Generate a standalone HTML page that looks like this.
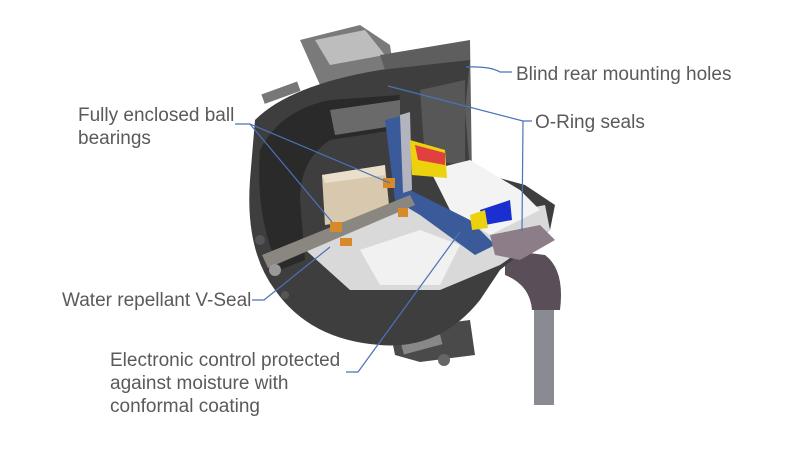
<!DOCTYPE html>
<html><head><meta charset="utf-8"><style>
html,body{margin:0;padding:0;background:#fff;}
svg{display:block}
text{font-family:"Liberation Sans",sans-serif;font-size:19px;fill:#5a5a5a}
</style></head><body>
<svg width="800" height="460" viewBox="0 0 800 460" xmlns="http://www.w3.org/2000/svg">
<rect width="800" height="460" fill="#fff"/>
<!-- cable -->
<rect x="534" y="300" width="20" height="105" fill="#8a8a92"/>
<path d="M505 250 L545 255 Q565 270 560 310 L532 310 Q530 285 505 275 Z" fill="#5a4e58"/>
<!-- bottom mount -->
<path d="M390 330 L470 320 L475 355 L420 362 L395 355 Z" fill="#4a4a4a"/>
<rect x="402" y="340" width="40" height="10" fill="#888" transform="rotate(-15 420 345)"/>
<circle cx="444" cy="360" r="6" fill="#666"/>
<!-- top mount -->
<path d="M300 40 L360 25 L390 45 L395 80 L320 85 Z" fill="#7a7a7a"/>
<path d="M315 40 L365 30 L385 55 L330 65 Z" fill="#bdbdbd"/>
<rect x="262" y="88" width="38" height="10" fill="#777" transform="rotate(-20 280 93)"/>
<!-- rear housing -->
<path d="M380 55 L470 40 L472 180 L420 175 Z" fill="#5e5e5e"/>
<path d="M430 70 L462 65 L462 90 L432 95 Z" fill="#777"/>
<!-- main dark casing -->
<path d="M255 120 Q290 85 380 70 L470 60 L465 110 L470 170 L525 185 L555 205 L550 230 L500 270 L480 300 Q440 350 380 345 Q310 340 275 290 Q245 250 250 180 Z" fill="#3e3e3e"/>
<path d="M260 150 Q280 110 330 100 L400 95 L395 130 L330 140 Q300 160 300 200 L305 260 L280 270 Q255 220 260 150 Z" fill="#2a2a2a"/>
<path d="M420 90 L465 80 L465 165 L425 160 Z" fill="#575757"/>
<path d="M330 110 L400 100 L400 125 L335 135 Z" fill="#6a6a6a"/>
<!-- internal light cut section -->
<path d="M300 245 L400 205 L470 220 L545 205 L550 230 L500 265 L440 290 L350 290 Z" fill="#d9d9d9"/>
<path d="M360 250 L420 230 L460 245 L440 285 L380 285 Z" fill="#f1f1f1"/>
<path d="M430 170 L470 160 L520 190 L540 210 L490 235 L450 210 Z" fill="#f3f3f3"/>
<!-- beige block -->
<path d="M322 175 L385 165 L390 215 L325 225 Z" fill="#d8c9ae"/>
<path d="M322 175 L385 165 L385 175 L325 183 Z" fill="#eadfca"/>
<!-- blue board -->
<path d="M385 120 L405 115 L410 190 L470 220 L495 245 L475 255 L420 215 L395 200 Z" fill="#3a5a9a"/>
<path d="M400 115 L410 112 L412 190 L403 193 Z" fill="#b4b4c0"/>
<!-- yellow/red -->
<path d="M410 140 L445 150 L447 178 L412 175 Z" fill="#ecd20c"/>
<path d="M415 145 L445 153 L445 165 L418 160 Z" fill="#e24040"/>
<path d="M480 210 L510 200 L512 220 L485 225 Z" fill="#1b2fd0"/>
<path d="M470 215 L485 210 L488 228 L472 230 Z" fill="#ecd20c"/>
<!-- shaft/plate -->
<path d="M262 255 L410 195 L415 205 L268 268 Z" fill="#8a8780"/>
<!-- orange bearings -->
<rect x="383" y="178" width="12" height="10" fill="#d68a2a"/>
<rect x="330" y="222" width="12" height="10" fill="#d68a2a"/>
<rect x="340" y="238" width="12" height="8" fill="#d68a2a"/>
<rect x="398" y="208" width="10" height="9" fill="#d68a2a"/>
<!-- connector -->
<path d="M490 235 L540 225 L555 240 L520 260 L495 255 Z" fill="#8c7d88"/>
<!-- small bolts -->
<circle cx="260" cy="240" r="5" fill="#555"/><circle cx="275" cy="270" r="6" fill="#999"/><circle cx="285" cy="295" r="4" fill="#555"/>
<!-- leaders -->
<g stroke="#4b72b8" stroke-width="1.2" fill="none">
<path d="M512 72 L500 72 Q490 66 466 67"/>
<path d="M532 121 L523 121 L388 86"/>
<path d="M523 121 L522 231"/>
<path d="M235 124 L250 124 L332 222"/>
<path d="M250 124 L390 183"/>
<path d="M252 300 L264 300 L330 247"/>
<path d="M346 372 L358 372 L460 232"/>
</g>
<text x="516" y="80">Blind rear mounting holes</text>
<text x="535" y="128">O-Ring seals</text>
<text x="78" y="121">Fully enclosed ball</text>
<text x="78" y="144">bearings</text>
<text x="62" y="306">Water repellant V-Seal</text>
<text x="110" y="366">Electronic control protected</text>
<text x="110" y="389">against moisture with</text>
<text x="110" y="412">conformal coating</text>
</svg>
</body></html>
